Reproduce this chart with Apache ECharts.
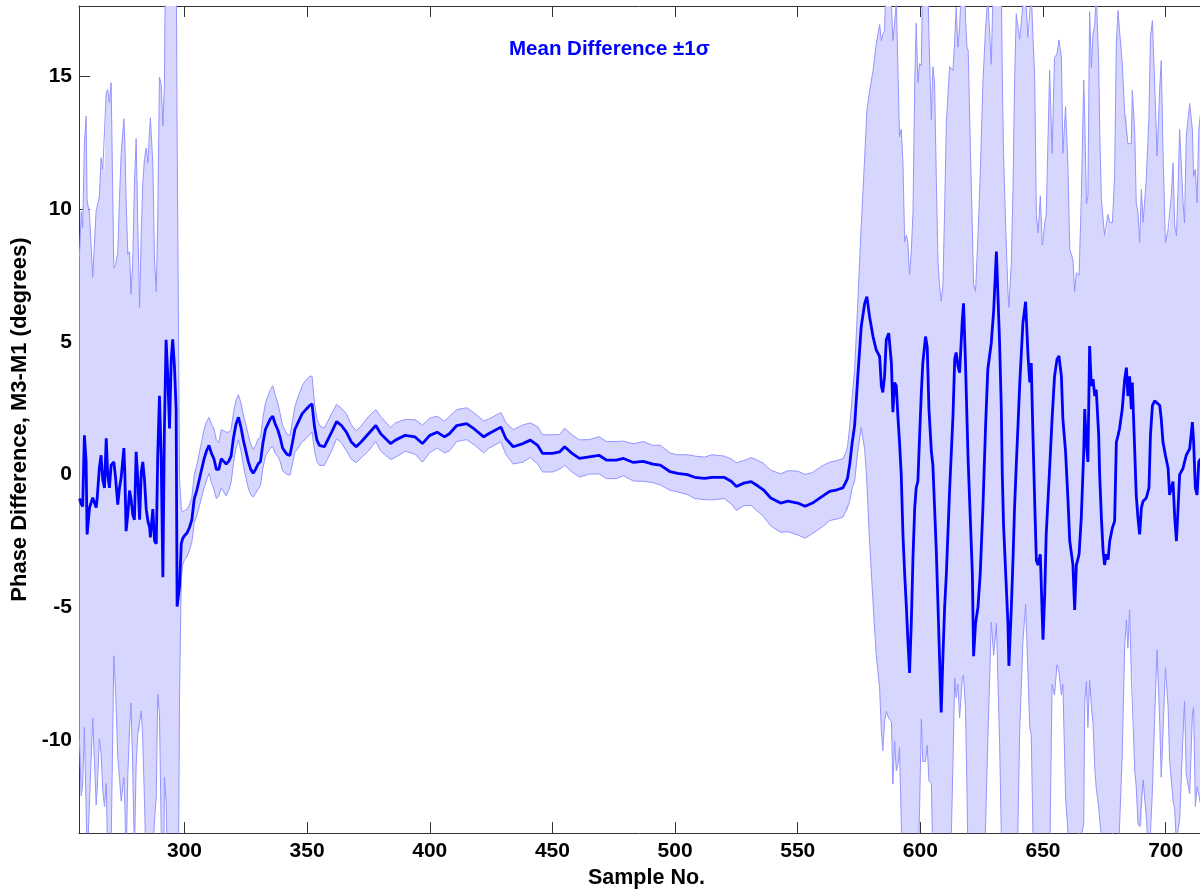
<!DOCTYPE html>
<html>
<head>
<meta charset="utf-8">
<script src="https://cdn.jsdelivr.net/npm/echarts@6/dist/echarts.min.js"></script>
<style>
html,body{margin:0;padding:0;background:#fff;overflow:hidden;}
#chart{width:1200px;height:894px;}
</style>
</head>
<body>
<div id="chart"></div>
<script>
// ---- Data ----
// Left noisy segment
const leftSample = [257.2,257.9,258.5,259.2,259.9,260.3,261.3,262.6,264.0,264.4,
 265.3,266.0,266.7,267.4,268.1,268.7,269.4,270.1,271.2,271.9,
 272.8,273.5,274.2,275.3,275.7,276.2,276.9,277.6,278.2,278.9,
 279.6,280.3,281.0,281.7,282.4,283.0,283.7,284.4,285.1,285.8,
 286.1,287.1,287.8,288.5,289.1,289.8,290.5,291.2,291.8,292.5,
 293.2,293.9,294.6,295.2,295.9,296.6,297.0,298.0,298.7,299.3];
const leftMean = [-0.9,-1.1,-1.2,1.48,0.5,-2.25,-1.24,-0.87,-1.24,-0.9,
 0.25,0.73,-0.2,-0.5,1.37,0.0,-0.5,0.36,0.48,-0.1,
 -1.13,-0.5,-0.1,1.0,0.0,-2.13,-1.5,-0.6,-0.9,-1.5,
 -1.7,0.86,-0.2,-1.7,0.1,0.48,-0.2,-1.3,-1.75,-2.0,
 -2.36,-1.3,-2.5,-2.6,0.73,2.97,0.7,-3.86,1.6,5.08,
 3.7,1.74,4.35,5.1,4.1,2.48,-4.97,-4.2,-2.6,-2.4];
const leftStd = [9.1,11,10.5,11,13,12.6,11,8.3,11.2,11,
 10.2,11.2,11.7,12,13,14.5,14.5,14.4,7.3,8,
 9.5,10.9,12.2,12.4,12.5,12.5,9.8,9,7.7,9.5,
 12.6,11.8,9.5,8,9,10.5,12.1,13.6,13.5,15,
 15.8,13,10.5,9.5,9,12,14,17,13,17.4,
 19,20,19,20,19,18,17.8,4.0,1.3,1.0];

// Smooth middle segment
const midSample = [300,301,302,303,304,305,306,307,308,309,
 310,311,312,313,314,315,316,317,318,319,
 320,321,322,323,324,325,326,327,328,329,
 330,331,332,333,334,335,336,337,338,339,
 340,341,342,343,344,345,346,347,348,349,
 350,351,352,353,354,355,357,360,362,364,
 366,368,370,372,375,378,380,384,386,390,
 394,397,400,403,406,408,411,415,418,422,
 424,429,431,434,438,441,444,446,450,453,
 455,458,461,465,469,472,476,479,483,487,
 491,494,498,501,505,508,512,515,520,523,
 525,528,531,533,536,539,543,546,550,553,
 556,560,563,566];
const midMean = [-2.3,-2.2,-2.0,-1.7,-0.9,-0.6,-0.2,0.2,0.6,0.9,
 1.1,0.8,0.6,0.2,0.2,0.6,0.5,0.4,0.5,0.7,
 1.4,1.9,2.16,1.8,1.3,0.9,0.5,0.2,0.05,0.2,
 0.4,0.5,1.2,1.7,1.9,2.1,2.2,1.9,1.7,1.4,
 1.0,0.86,0.75,0.73,1.2,1.7,1.9,2.1,2.3,2.4,
 2.5,2.6,2.66,1.8,1.3,1.1,1.05,1.6,2.0,1.85,
 1.6,1.23,1.05,1.23,1.54,1.85,1.54,1.17,1.3,1.48,
 1.42,1.17,1.48,1.6,1.42,1.54,1.85,1.92,1.73,1.42,
 1.54,1.79,1.36,1.05,1.17,1.3,1.1,0.8,0.8,0.86,
 1.05,0.8,0.61,0.67,0.73,0.55,0.55,0.61,0.46,0.5,
 0.4,0.36,0.11,0.05,0.0,-0.1,-0.14,-0.1,-0.1,-0.26,
 -0.45,-0.32,-0.26,-0.38,-0.57,-0.88,-1.07,-1.0,-1.07,-1.19,
 -1.07,-0.82,-0.63,-0.57];
const midStd = [0.9,0.9,0.85,0.85,0.9,0.95,1.0,1.05,1.1,1.1,
 1.05,1.1,1.15,1.1,1.0,1.1,1.15,1.2,1.1,1.0,
 0.95,0.9,0.85,0.9,0.95,1.0,1.0,0.95,0.9,0.9,
 0.95,0.9,0.95,1.0,1.05,1.1,1.15,1.1,1.0,0.9,
 0.85,0.8,0.75,0.75,0.8,0.85,0.95,1.0,1.05,1.1,
 1.1,1.1,1.05,0.9,0.8,0.75,0.7,0.7,0.65,0.65,
 0.7,0.65,0.6,0.6,0.65,0.6,0.65,0.6,0.65,0.6,
 0.65,0.7,0.65,0.6,0.6,0.65,0.6,0.6,0.6,0.6,
 0.55,0.55,0.6,0.65,0.7,0.65,0.7,0.7,0.7,0.65,
 0.7,0.7,0.7,0.65,0.7,0.7,0.7,0.65,0.7,0.75,
 0.7,0.75,0.7,0.7,0.75,0.8,0.8,0.85,0.8,0.85,
 0.9,0.85,0.9,0.95,1.0,1.05,1.1,1.15,1.2,1.2,
 1.15,1.15,1.1,1.1];

// Right noisy segment
const rightSample = [568.4,569.5,570.3,571.2,572.2,573.2,574.5,575.9,577.3,578.2,
 579.3,580.7,582.0,583.4,584.1,584.7,585.4,586.1,587.1,588.2,
 588.8,589.5,590.2,590.9,591.5,592.2,592.9,593.6,594.3,594.9,
 595.6,596.3,597.0,597.7,598.3,599.0,599.7,600.4,601.0,602.1,
 602.8,603.5,604.5,605.1,605.8,606.5,607.2,607.8,608.5,609.2,
 609.9,610.6,611.9,613.3,614.0,614.6,615.3,616.0,617.1,617.6,
 618.4,619.0,619.5,620.4,621.2,621.7,622.5,623.5,624.4,625.5,
 626.6,627.5,628.9,629.9,631.0,632.3,633.0,633.4,633.9,634.8,
 635.7,636.1,637.1,637.8,638.4,639.1,639.8,640.5,641.8,642.9,
 643.9,644.6,645.2,645.9,646.6,647.3,648.0,648.9,649.7,650.0,
 650.7,651.3,652.7,653.7,654.7,655.7,656.5,657.5,658.1,659.2,
 660.2,660.9,662.2,662.9,663.6,664.7,665.6,666.6,667.0,667.7,
 668.3,669.0,669.7,670.4,671.1,671.7,672.7,673.1,673.8,674.5,
 675.1,675.8,676.5,677.2,678.3,679.2,679.9,680.6,681.2,682.3,
 683.3,684.0,684.6,685.3,686.0,686.4,687.4,688.0,688.7,689.4,
 690.1,690.8,692.1,693.2,693.8,694.6,695.5,696.5,697.6,698.2,
 698.9,699.9,701.0,701.6,702.3,703.0,703.7,704.4,705.0,705.7,
 707.1,707.7,708.4,709.8,710.9,711.4,712.1,712.8,713.5,714.2];
const rightMean = [-0.5,-0.3,-0.14,0.4,1.2,1.85,3.7,5.58,6.45,6.7,
 5.95,5.2,4.7,4.45,3.34,3.1,3.7,5.08,5.33,4.2,
 2.35,3.47,3.34,2.1,1.23,0.0,-2.25,-3.74,-4.98,-6.22,
 -7.47,-5.6,-3.1,-1.25,-0.5,-0.24,1.48,3.1,4.2,5.2,
 4.8,2.47,0.86,0.36,-1.25,-2.87,-4.98,-6.84,-8.96,-6.84,
 -4.98,-3.74,-0.63,2.22,4.34,4.6,4.1,3.84,5.83,6.45,
 4.2,2.1,0.48,-1.75,-3.74,-6.84,-5.6,-4.98,-3.74,-1.25,
 1.85,3.97,4.95,6.2,8.4,4.96,2.48,0.0,-1.87,-3.74,
 -5.6,-7.2,-4.98,-3.1,-1.25,0.36,1.85,3.4,5.7,6.51,
 4.46,3.47,4.2,1.48,-1.0,-3.24,-3.4,-3.0,-5.35,-6.22,
 -4.5,-2.25,0.24,2.1,3.7,4.34,4.47,3.7,2.1,0.86,
 -1.0,-2.5,-3.4,-5.1,-3.4,-3.0,-1.63,0.86,2.47,1.2,
 0.48,4.84,3.34,3.6,2.96,3.2,1.48,0.0,-1.63,-2.87,
 -3.4,-3.0,-3.2,-2.5,-2.0,-1.75,1.23,1.48,1.73,2.47,
 3.6,4.03,2.96,3.7,2.47,3.47,0.86,-0.76,-1.63,-2.25,
 -1.25,-1.0,-0.88,-0.5,1.48,2.6,2.78,2.7,2.6,2.1,
 1.23,0.73,0.24,-0.76,-0.5,-0.26,-1.63,-2.5,-1.38,0.0,
 0.24,0.48,0.73,0.98,1.98,1.23,-0.5,-0.76,0.48,0.6];
const rightStd = [1.1,1.1,1.2,1.4,1.7,2.1,2.8,3.8,5.5,7,
 8.5,10,11.5,12.5,13,13.5,13,14,14.5,13.5,
 14,13.5,14.5,13,11.5,13,14,12.5,14,15,
 15,14,13,16,17.5,15,14,12.3,15,16,
 15,14,12.5,15,16,14,13,14,15.5,14,
 15,17,16,13,12,13,12,13,13.5,14,
 13,14,15.5,14,13,14,12.5,14,15,16,
 15,14,10.5,13,14,15,16,15,14,13,
 12.5,13.5,13,14,16,17,15,13,12,11.4,
 12,13,14,15,16,13,12.5,13.5,14,15,
 14,12,15,10,12,11.5,11.9,12,10,13,
 12.5,11,11.5,12,11,10.5,12,14,11,9,
 10,12.6,12,13,14,15,14,13,12,12.5,
 12.4,12,13,12,11.5,13,15,16,15,13,
 10,9.5,9.5,8.8,10,11,12,11,11.5,11,
 12,10.5,12,14,15,14.5,12,9.3,12,13.5,
 11,8,9,10,11,12,11,11.5,12,13,
 10,9,12,13,11,10,12,11,12.5,13];

const yTickValues = [-10, -5, 0, 5, 10, 15];
const xTickValues = [300, 350, 400, 450, 500, 550, 600, 650, 700];

// ---- Build series data ----
const sampleNo = leftSample.concat(midSample, rightSample);
const meanDiff = leftMean.concat(midMean, rightMean);
const stdDev = leftStd.concat(midStd, rightStd);

const upperData = sampleNo.map((x, i) => [x, meanDiff[i] + stdDev[i]]);
const lowerData = sampleNo.map((x, i) => [x, meanDiff[i] - stdDev[i]]);
const meanData = sampleNo.map((x, i) => [x, meanDiff[i]]);

const FONT = '"Liberation Sans", Arial, Helvetica, sans-serif';
const chart = echarts.init(document.getElementById('chart'), null, {renderer: 'canvas'});

const axisLabelStyle = {color: '#000', fontSize: 21, fontWeight: 'bold', fontFamily: FONT};
const BAND_EDGE = '#9494ff';
const BAND_FILL = '#d6d6ff';

function renderBand(params, api) {
  const pts = [];
  for (let i = 0; i < upperData.length; i++) pts.push(api.coord(upperData[i]));
  for (let i = lowerData.length - 1; i >= 0; i--) pts.push(api.coord(lowerData[i]));
  const cs = params.coordSys;
  return {
    type: 'polygon',
    shape: {points: pts},
    style: {fill: BAND_FILL, stroke: null},
    clipPath: {type: 'rect', shape: {x: cs.x, y: cs.y, width: cs.width, height: cs.height}}
  };
}

chart.setOption({
  animation: false,
  backgroundColor: '#fff',
  title: {
    text: 'Mean Difference \u00b11\u03c3',
    left: 504,
    top: 34,
    textStyle: {color: '#0000ff', fontSize: 20.5, fontWeight: 'bold', fontFamily: FONT}
  },
  grid: {left: 79, right: 0, top: 6, bottom: 52, containLabel: false},
  xAxis: [{
    type: 'value', min: 257, max: 714, splitNumber: 9,
    name: 'Sample No.', nameLocation: 'middle', nameGap: 29,
    nameTextStyle: {color: '#000', fontSize: 21.5, fontWeight: 'bold', fontFamily: FONT,
      padding: [0, 0, 0, 14]},
    axisLine: {show: true, onZero: false, lineStyle: {color: '#333', width: 1}},
    axisTick: {show: true, inside: true, length: 11, lineStyle: {color: '#333'}},
    axisLabel: Object.assign({margin: 8, showMinLabel: false, showMaxLabel: false,
      formatter: v => xTickValues.includes(v) ? String(v) : ''}, axisLabelStyle),
    splitLine: {show: false}
  }, {
    type: 'value', position: 'top', min: 257, max: 714, splitNumber: 9,
    axisLine: {show: true, onZero: false, lineStyle: {color: '#333', width: 1}},
    axisTick: {show: true, inside: true, length: 11, lineStyle: {color: '#333'}},
    axisLabel: {show: false},
    splitLine: {show: false}
  }],
  yAxis: [{
    type: 'value', min: -13.5, max: 17.65, splitNumber: 6,
    name: 'Phase Difference, M3-M1 (degrees)', nameLocation: 'middle', nameGap: 46,
    nameTextStyle: {color: '#000', fontSize: 22, fontWeight: 'bold', fontFamily: FONT},
    axisLine: {show: true, onZero: false, lineStyle: {color: '#333', width: 1}},
    axisTick: {show: true, inside: true, length: 11, lineStyle: {color: '#333'}},
    axisLabel: Object.assign({margin: 7, showMinLabel: false, showMaxLabel: false,
      formatter: v => yTickValues.includes(v) ? String(v) : ''}, axisLabelStyle),
    splitLine: {show: false}
  }],
  series: [{
    name: 'band', type: 'custom', data: [0], renderItem: renderBand,
    silent: true, z: 1
  }, {
    name: 'upper', type: 'line', data: upperData,
    symbol: 'none', silent: true, z: 3,
    lineStyle: {color: BAND_EDGE, width: 1}
  }, {
    name: 'lower', type: 'line', data: lowerData,
    symbol: 'none', silent: true, z: 3,
    lineStyle: {color: BAND_EDGE, width: 1}
  }, {
    name: 'mean', type: 'line', data: meanData,
    symbol: 'none', silent: true, z: 4,
    lineStyle: {color: '#0000ff', width: 2.8}
  }]
});
</script>
</body>
</html>
